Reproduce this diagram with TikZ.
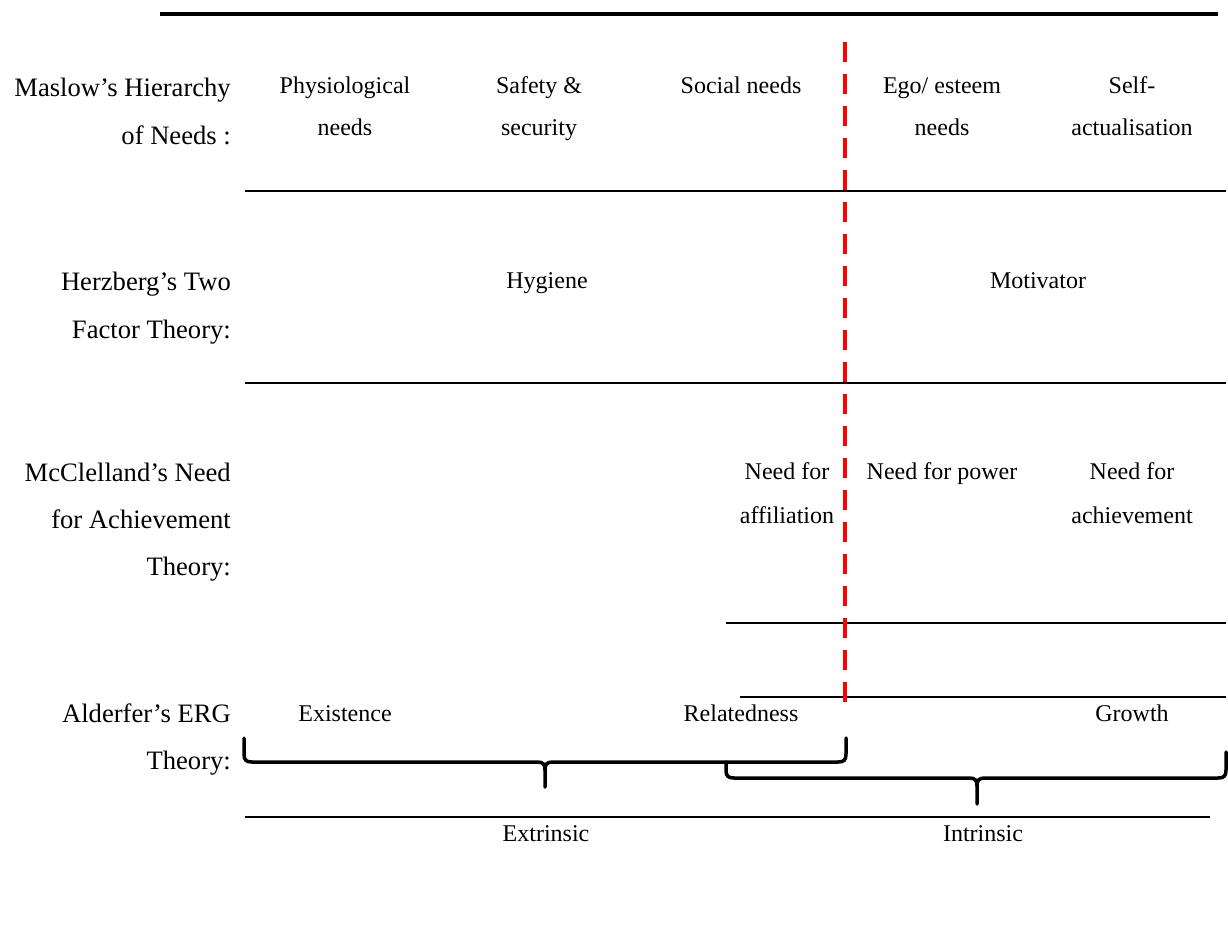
\documentclass[tikz,border=0pt]{standalone}
\usepackage{fontspec}
\setmainfont{Liberation Serif}
\begin{document}
\begin{tikzpicture}[x=1pt,y=-1pt,
  rowlabel/.style={anchor=base east, inner sep=0pt, font=\fontsize{26.6}{31}\selectfont},
  cell/.style={anchor=base, inner sep=0pt, font=\fontsize{24}{28}\selectfont},
  rule/.style={line width=2pt},
  toprule/.style={line width=4pt},
  bracepath/.style={line width=3.5pt, line cap=round, line join=round},
  divider/.style={red, line width=4pt, dash pattern=on 20pt off 12pt}]
\useasboundingbox (0,0) rectangle (1228,936);

% heading rule
\draw[toprule] (160,14) -- (1218,14);

% horizontal rules between rows
\draw[rule] (245,191) -- (1226,191);
\draw[rule] (245,383) -- (1226,383);
\draw[rule] (726,623) -- (1226,623);
\draw[rule] (740,697) -- (1226,697);
\draw[rule] (245,817) -- (1210,817);

% extrinsic / intrinsic divider
\coordinate (divtop) at (845,42);
\coordinate (divbot) at (845,705);
\draw[divider] (divtop) -- (divbot);

% row labels
\node[rowlabel] (m1) at (231,96.5) {Maslow’s Hierarchy};
\node[rowlabel] (m2) at (231,144.5) {of Needs :};
\node[rowlabel] (h1) at (231,290.5) {Herzberg’s Two};
\node[rowlabel] (h2) at (231,338.5) {Factor Theory:};
\node[rowlabel] (c1) at (231,481.5) {McClelland’s Need};
\node[rowlabel] (c2) at (231,528.5) {for Achievement};
\node[rowlabel] (c3) at (231,575.5) {Theory:};
\node[rowlabel] (a1) at (231,722.5) {Alderfer’s ERG};
\node[rowlabel] (a2) at (231,769.5) {Theory:};

% Maslow
\node[cell] (phys1) at (345,94) {Physiological};
\node[cell] (phys2) at (345,136) {needs};
\node[cell] (safe1) at (539,94) {Safety \&};
\node[cell] (safe2) at (539,136) {security};
\node[cell] (soc) at (741,94) {Social needs};
\node[cell] (ego1) at (942,94) {Ego/ esteem};
\node[cell] (ego2) at (942,136) {needs};
\node[cell] (self1) at (1132,94) {Self-};
\node[cell] (self2) at (1132,136) {actualisation};

% Herzberg
\node[cell] (hyg) at (547,288) {Hygiene};
\node[cell] (mot) at (1038,288) {Motivator};

% McClelland
\node[cell] (aff1) at (787,479) {Need for};
\node[cell] (aff2) at (787,523) {affiliation};
\node[cell] (pow) at (942,479) {Need for power};
\node[cell] (ach1) at (1132,479) {Need for};
\node[cell] (ach2) at (1132,523) {achievement};

% Alderfer
\node[cell] (exi) at (345,721) {Existence};
\node[cell] (rel) at (741,721) {Relatedness};
\node[cell] (gro) at (1132,721) {Growth};

% braces
\draw[bracepath] (244,738) -- (244,754) .. controls (244,760) and (246,762) .. (252,762)
  -- (537,762) .. controls (543,762) and (545,764) .. (545,770) -- (545,787);
\draw[bracepath] (545,770) .. controls (545,764) and (547,762) .. (553,762)
  -- (838,762) .. controls (844,762) and (846,760) .. (846,754) -- (846,738);
\draw[bracepath] (726,762) -- (726,770) .. controls (726,776) and (728,778) .. (734,778)
  -- (969,778) .. controls (975,778) and (977,780) .. (977,786) -- (977,804);
\draw[bracepath] (977,786) .. controls (977,780) and (979,778) .. (985,778)
  -- (1218,778) .. controls (1224,778) and (1226,776) .. (1226,770) -- (1226,752);

% bottom labels
\node[cell] (ext) at (546,841) {Extrinsic};
\node[cell] (intr) at (983,841) {Intrinsic};
\end{tikzpicture}
\end{document}
